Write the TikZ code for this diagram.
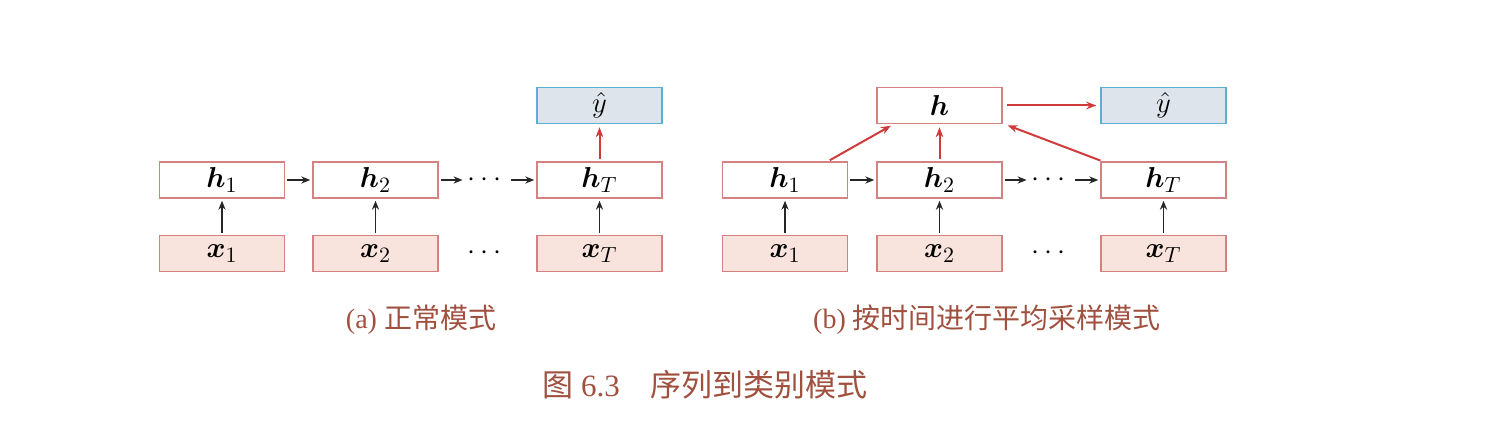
\documentclass[tikz,border=0pt]{standalone}
\usepackage{amsmath,bm}
\usepackage{fontspec}
\newfontfamily\cjk{Noto Sans CJK SC}
\newfontfamily\capserif{Liberation Serif}
\usetikzlibrary{arrows.meta,calc}
\definecolor{boxline}{RGB}{214,128,128}
\definecolor{xfill}{RGB}{248,228,220}
\definecolor{yfill}{RGB}{222,228,236}
\definecolor{yline}{RGB}{90,176,208}
\definecolor{redarrow}{RGB}{208,58,58}
\definecolor{captext}{RGB}{160,80,62}
\tikzset{
  hbox/.style={draw=boxline, line width=0.75pt, fill=white, minimum width=62.5pt, minimum height=18pt, inner sep=0pt, font=\fontsize{15}{17}\selectfont},
  xbox/.style={hbox, fill=xfill},
  ybox/.style={hbox, draw=yline, fill=yfill},
  dotsnode/.style={inner sep=0pt, minimum width=22pt, font=\fontsize{15}{17}\selectfont},
  blkarr/.style={-{Stealth[length=4.5pt,width=3.6pt]}, line width=0.8pt, black!85, shorten <=1pt, shorten >=1pt},
  redarr/.style={-{Stealth[length=5pt,width=3.8pt]}, line width=1pt, redarrow, shorten <=1pt, shorten >=1.5pt},
  captxt/.style={text=captext, inner sep=0pt, font=\fontsize{14}{16}\selectfont\capserif}
}
\begin{document}
\begin{tikzpicture}[x=0.5pt,y=-0.5pt]
\useasboundingbox (0,0) rectangle (1502,426);
% panel (a)
\node[hbox] (ah1) at (222,180) {$\bm{h}_1$};
\node[hbox] (ah2) at (375.5,180) {$\bm{h}_2$};
\node[dotsnode] (adh) at (487,180) {$\cdots$};
\node[hbox] (ahT) at (599.5,180) {$\bm{h}_T$};
\node[xbox] (ax1) at (222,253.5) {$\bm{x}_1$};
\node[xbox] (ax2) at (375.5,253.5) {$\bm{x}_2$};
\node[dotsnode] (adx) at (487,253.5) {$\cdots$};
\node[xbox] (axT) at (599.5,253.5) {$\bm{x}_T$};
\node[ybox] (ay) at (599.5,105.5) {$\hat{y}$};
\draw[blkarr] (ah1) -- (ah2);
\draw[blkarr] (ah2) -- (adh);
\draw[blkarr] (adh) -- (ahT);
\draw[blkarr] (ax1) -- (ah1);
\draw[blkarr] (ax2) -- (ah2);
\draw[blkarr] (axT) -- (ahT);
\draw[redarr] (ahT) -- (ay);
% panel (b)
\node[hbox] (bh1) at (785,180) {$\bm{h}_1$};
\node[hbox] (bh2) at (939.5,180) {$\bm{h}_2$};
\node[dotsnode] (bdh) at (1051,180) {$\cdots$};
\node[hbox] (bhT) at (1163.5,180) {$\bm{h}_T$};
\node[xbox] (bx1) at (785,253.5) {$\bm{x}_1$};
\node[xbox] (bx2) at (939.5,253.5) {$\bm{x}_2$};
\node[dotsnode] (bdx) at (1051,253.5) {$\cdots$};
\node[xbox] (bxT) at (1163.5,253.5) {$\bm{x}_T$};
\node[hbox] (bh) at (939.5,105.5) {$\bm{h}$};
\node[ybox] (by) at (1163.5,105.5) {$\hat{y}$};
\draw[blkarr] (bh1) -- (bh2);
\draw[blkarr] (bh2) -- (bdh);
\draw[blkarr] (bdh) -- (bhT);
\draw[blkarr] (bx1) -- (bh1);
\draw[blkarr] (bx2) -- (bh2);
\draw[blkarr] (bxT) -- (bhT);
\draw[redarr] ([xshift=21.5pt]bh1.north) -- ([xshift=-23pt]bh.south);
\draw[redarr] (bh2) -- (bh);
\draw[redarr] ([xshift=1pt]bhT.north west) -- ([xshift=1pt]bh.south east);
\draw[redarr, shorten <=2pt, shorten >=2pt] (bh) -- (by);
% captions
\node[captxt] (capa) at (421,320) {(a) {\cjk 正常模式}};
\node[captxt] (capb) at (987,320) {(b) {\cjk 按时间进行平均采样模式}};
\node[captxt, font=\fontsize{15.5}{18}\selectfont\capserif] (capf) at (705,385) {{\cjk 图} 6.3\hspace{1em}{\cjk 序列到类别模式}};
\end{tikzpicture}
\end{document}
